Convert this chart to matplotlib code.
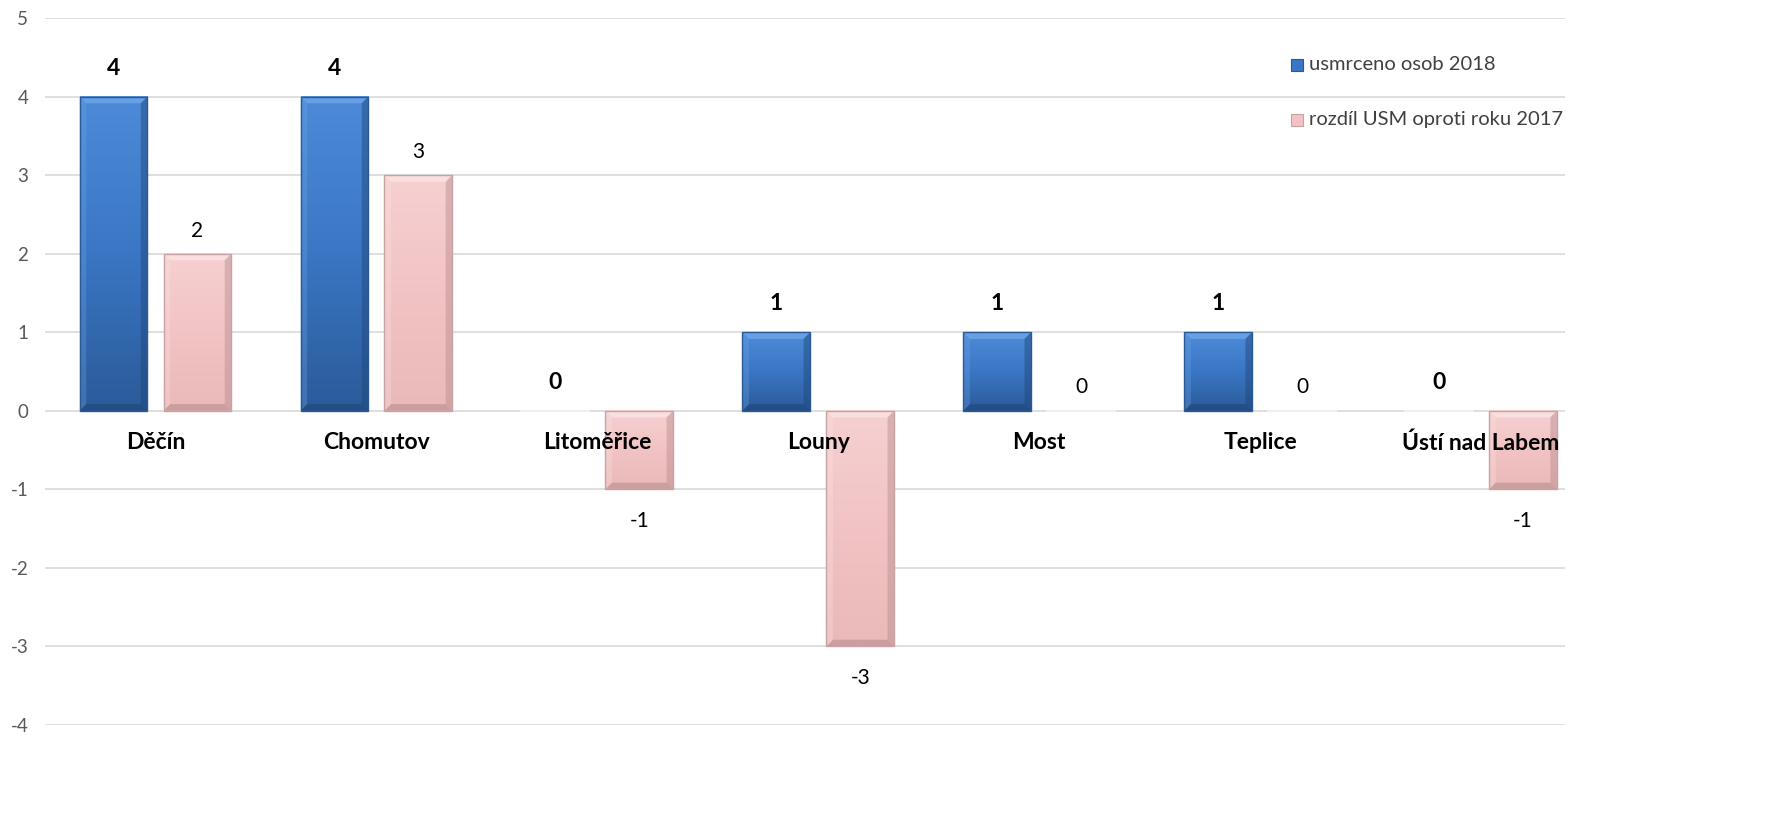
import numpy as np
import matplotlib
matplotlib.use("Agg")
import matplotlib.pyplot as plt
from matplotlib.patches import Polygon
from matplotlib.colors import LinearSegmentedColormap

categories = ["Děčín", "Chomutov", "Litoměřice", "Louny", "Most", "Teplice", "Ústí nad Labem"]
usmrceno_2018 = [4, 4, 0, 1, 1, 1, 0]
rozdil_2017 = [2, 3, -1, -3, 0, 0, -1]
series_names = ["usmrceno osob 2018", "rozdíl USM oproti roku 2017"]
yticks = [-4, -3, -2, -1, 0, 1, 2, 3, 4, 5]

plt.rcParams['font.family'] = ['Lato', 'DejaVu Sans']

fig = plt.figure(figsize=(17.76, 8.32), dpi=100)
ax = fig.add_axes([45/1776, 1-725/832, (1565-45)/1776, (725-18)/832])
ax.set_xlim(-0.5, 6.38)
ax.set_ylim(-4, 5)
ax.set_yticks(yticks)
ax.set_yticklabels([str(t) for t in yticks], fontsize=13.5, color="#595959")
ax.tick_params(axis='y', length=0, pad=12)
ax.set_xticks([])
for s in ax.spines.values():
    s.set_visible(False)
ax.grid(axis='y', color="#d9d9d9", linewidth=1.2)
ax.set_axisbelow(True)

w = 0.307
off = 0.19
x = np.arange(len(categories))

blue_cmap = LinearSegmentedColormap.from_list("b", ["#4d8bd8", "#3a76c4", "#2b5b99"])
pink_cmap = LinearSegmentedColormap.from_list("p", ["#f6d0d1", "#f2c3c4", "#eab9ba"])

def bevel_bar(xc, val, cmap, light, dark, edge):
    x0, x1 = xc - w/2, xc + w/2
    y0, y1 = min(0, val), max(0, val)
    if y1 - y0 < 1e-9:
        ax.plot([x0, x1], [0, 0], color="#f0f0f0", lw=1.5, zorder=2)
        return
    grad = np.linspace(0, 1, 100).reshape(-1, 1)
    ax.imshow(grad, cmap=cmap, extent=[x0, x1, y0, y1], origin='upper',
              aspect='auto', zorder=2)
    bx = 0.030
    by = 0.085
    top = Polygon([[x0, y1], [x1, y1], [x1-bx, y1-by], [x0+bx, y1-by]],
                  closed=True, facecolor=light, edgecolor='none', zorder=3, alpha=0.8)
    bot = Polygon([[x0, y0], [x1, y0], [x1-bx, y0+by], [x0+bx, y0+by]],
                  closed=True, facecolor=dark, edgecolor='none', zorder=3, alpha=0.6)
    left = Polygon([[x0, y0], [x0, y1], [x0+bx, y1-by], [x0+bx, y0+by]],
                   closed=True, facecolor=light, edgecolor='none', zorder=3, alpha=0.3)
    right = Polygon([[x1, y0], [x1, y1], [x1-bx, y1-by], [x1-bx, y0+by]],
                    closed=True, facecolor=dark, edgecolor='none', zorder=3, alpha=0.45)
    for p in (top, bot, left, right):
        ax.add_patch(p)
    r = Polygon([[x0, y0], [x1, y0], [x1, y1], [x0, y1]], closed=True,
                facecolor='none', edgecolor=edge, lw=1.0, zorder=4)
    ax.add_patch(r)

for i in range(len(categories)):
    bevel_bar(x[i]-off, usmrceno_2018[i], blue_cmap, "#6fa6e8", "#1f4577", "#2a5a94")
    bevel_bar(x[i]+off, rozdil_2017[i], pink_cmap, "#fbe4e4", "#b88c8e", "#c9a2a3")

# value labels
for i in range(len(categories)):
    v = usmrceno_2018[i]
    ax.text(x[i]-off, v + 0.36, str(v), ha='center', va='center',
            fontsize=16.5, fontweight='bold', color='black', zorder=5)
    p = rozdil_2017[i]
    if p > 0:
        ax.text(x[i]+off, p + 0.29, str(p), ha='center', va='center', fontsize=15, color='black', zorder=5)
    elif p < 0:
        ax.text(x[i]+off, p - 0.40, str(p), ha='center', va='center', fontsize=15, color='black', zorder=5)
    else:
        ax.text(x[i]+off, p + 0.30, str(p), ha='center', va='center', fontsize=15, color='black', zorder=5)

# category labels
for i, c in enumerate(categories):
    ax.text(x[i], -0.41, c, ha='center', va='center', fontsize=16.5, fontweight='bold',
            color='black', zorder=6)

# legend
for k, (name, fc, ec) in enumerate([(series_names[0], "#3a76c4", "#2a5a94"),
                                     (series_names[1], "#f2c3c4", "#c9a2a3")]):
    ypx = 65 + k*55
    fig.patches.append(matplotlib.patches.Rectangle(
        ((1297-6)/1776, 1-(ypx+6)/832), 12/1776, 12/832, transform=fig.transFigure,
        facecolor=fc, edgecolor=ec, lw=0.8, figure=fig))
    fig.text(1309/1776, 1-ypx/832, name, ha='left', va='center', fontsize=14.5, color='#404040')

fig.savefig("out.png", dpi=100)
